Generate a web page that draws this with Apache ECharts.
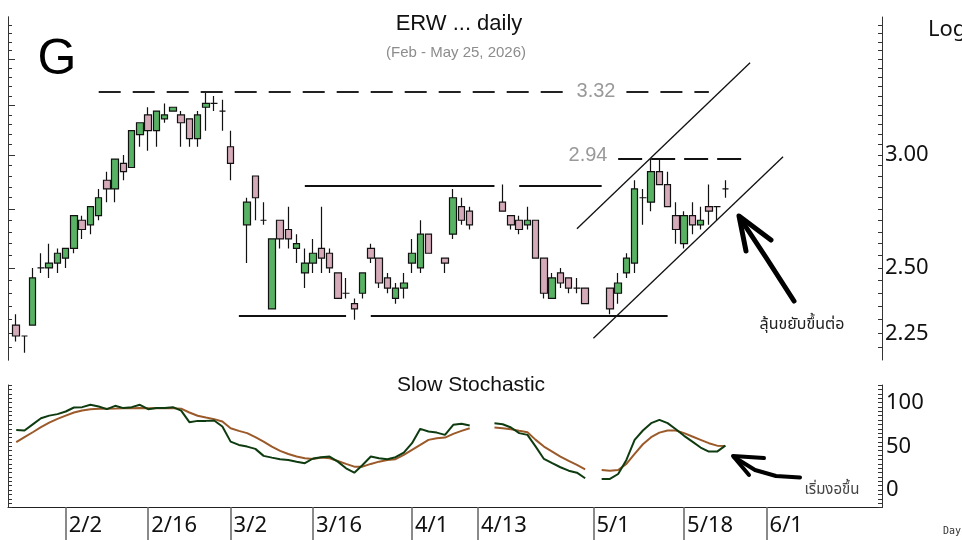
<!DOCTYPE html>
<html>
<head>
<meta charset="utf-8">
<script src="https://cdn.jsdelivr.net/npm/echarts@6/dist/echarts.min.js"></script>
<style>
  html, body { margin: 0; padding: 0; background: #fff; }
  #chart { width: 962px; height: 540px; }
</style>
</head>
<body>
<div id="chart"></div>
<script>
// trading days shown as candles
const tradeDays = ['1/23','1/26','1/27','1/28','1/29','1/30',
  '2/2','2/3','2/4','2/5','2/6','2/9','2/10','2/11','2/12','2/13','2/16','2/17','2/18','2/19','2/20','2/23','2/24','2/25','2/26','2/27',
  '3/2','3/4','3/5','3/6','3/9','3/10','3/11','3/12','3/13','3/16','3/17','3/18','3/19','3/20','3/23','3/24','3/25','3/26','3/27','3/30','3/31',
  '4/1','4/2','4/3','4/7','4/8','4/9','4/10','4/16','4/17','4/20','4/21','4/22','4/23','4/24','4/27','4/28','4/29','4/30',
  '5/5','5/6','5/7','5/8','5/11','5/12','5/13','5/14','5/15','5/18','5/19','5/20','5/21','5/22','5/25'];
const open  = [2.28,2.24,2.28,2.50,2.50,2.52, 2.54,2.58,2.70,2.68,2.72,2.88,2.84,2.96,2.94,3.10,3.20,3.12,3.18,3.22,3.20,3.18,3.08,3.24,3.26,3.22,
  3.04,2.68,2.90,2.70,2.34,2.70,2.66,2.58,2.48,2.52,2.58,2.56,2.48,2.40,2.36,2.40,2.58,2.54,2.46,2.38,2.42,
  2.52,2.50,2.64,2.54,2.64,2.76,2.74,2.78,2.72,2.70,2.68,2.70,2.54,2.38,2.48,2.46,2.42,2.42,
  2.42,2.40,2.48,2.52,2.80,2.78,2.92,2.86,2.72,2.60,2.72,2.68,2.76,2.76,2.84];
const close = [2.24,2.24,2.46,2.50,2.52,2.56, 2.58,2.72,2.66,2.76,2.80,2.84,2.98,2.92,3.12,3.16,3.12,3.22,3.20,3.24,3.16,3.08,3.20,3.26,3.26,3.22,
  2.96,2.78,2.80,2.70,2.62,2.62,2.62,2.60,2.52,2.56,2.54,2.50,2.38,2.40,2.34,2.48,2.54,2.44,2.42,2.42,2.44,
  2.56,2.64,2.56,2.52,2.80,2.70,2.68,2.74,2.68,2.66,2.70,2.54,2.40,2.46,2.44,2.42,2.42,2.36,
  2.34,2.44,2.54,2.84,2.80,2.92,2.86,2.76,2.66,2.72,2.68,2.70,2.74,2.76,2.84];
const low   = [2.22,2.18,2.28,2.48,2.46,2.48, 2.50,2.56,2.62,2.64,2.70,2.78,2.78,2.88,2.94,3.04,3.02,3.04,3.16,3.22,3.04,3.04,3.04,3.12,3.22,3.12,
  2.88,2.52,2.70,2.68,2.34,2.58,2.58,2.52,2.42,2.48,2.48,2.48,2.38,2.38,2.30,2.38,2.52,2.42,2.40,2.36,2.38,
  2.48,2.48,2.56,2.48,2.62,2.68,2.66,2.74,2.66,2.64,2.66,2.54,2.38,2.38,2.42,2.40,2.40,2.36,
  2.32,2.36,2.46,2.48,2.68,2.74,2.86,2.76,2.60,2.58,2.64,2.66,2.68,2.70,2.80];
const high  = [2.32,2.24,2.50,2.56,2.60,2.58, 2.58,2.72,2.72,2.76,2.84,2.92,2.98,3.00,3.12,3.16,3.24,3.22,3.26,3.24,3.22,3.18,3.22,3.32,3.30,3.28,
  3.12,2.80,2.90,2.78,2.62,2.70,2.76,2.64,2.58,2.62,2.76,2.58,2.48,2.46,2.38,2.48,2.60,2.54,2.48,2.44,2.48,
  2.62,2.70,2.64,2.54,2.84,2.80,2.76,2.86,2.72,2.72,2.76,2.70,2.54,2.48,2.50,2.46,2.46,2.42,
  2.42,2.48,2.56,2.88,2.84,2.98,2.98,2.92,2.78,2.74,2.78,2.76,2.86,2.76,2.88];

// slow stochastic (%K, %D); line restarts one slot before the next trading day after a holiday
const stochDays = ['1/23','1/26','1/27','1/28','1/29','1/30',
  '2/2','2/3','2/4','2/5','2/6','2/9','2/10','2/11','2/12','2/13','2/16','2/17','2/18','2/19','2/20','2/23','2/24','2/25','2/26','2/27',
  '3/2','3/3','3/4','3/5','3/6','3/9','3/10','3/11','3/12','3/13','3/16','3/17','3/18','3/19','3/20','3/23','3/24','3/25','3/26','3/27','3/30','3/31',
  '4/1','4/2','4/3','4/6','4/7','4/8','4/9','4/10','4/15','4/16','4/17','4/20','4/21','4/22','4/23','4/24','4/27','4/28','4/29','4/30',
  '5/4','5/5','5/6','5/7','5/8','5/11','5/12','5/13','5/14','5/15','5/18','5/19','5/20','5/21','5/22','5/25'];
const stochK = [68.7,68,75,82,85,86.7, 89.7,94.3,94.7,97.4,95.4,92.4,96.2,93.6,94.7,97.4,92.4,93.6,93.6,94.7,90.8,77.5,79,79,79.4,72.5,
  55.3,51.5,49.6,47,39,37,35.2,34.4,32.4,30.6,36,37.5,38.2,32.4,24.8,19.8,28.6,38.2,36.3,35.2,37.5,42.7,
  53.5,69.9,66.8,65.6,63,74.5,75.6,73.7,76.4,75.2,71.4,65,63,49.6,35.5,30.6,26,22.1,19.8,13.4,
  12.6,12.6,18.3,34.4,57.3,68,76.4,80.2,76.4,69.5,61.9,55.3,48.5,43.9,43.9,50.7];
const stochD = [54.6,60.4,66,71.8,77,81.3, 85,88.6,90.8,92.4,92.8,92.8,93,93.4,93.4,93.8,93.4,93.4,93.4,93.4,93,88.6,84.8,82.8,81,78.2,
  70.6,67.6,65,60.4,55.3,49.6,44.7,41.2,38.2,36.3,35.5,37.1,36.3,33.2,29.8,26.7,26.7,29.8,32.4,34.4,35.2,40.1,
  45.8,51.5,57.3,59.2,59.9,64.1,67.6,70.6,71.4,70.6,69.5,67.6,66,57.3,49.6,43.9,38.2,33.2,28.6,23.7,
  22.9,22.1,22.9,29.8,41.2,52.3,60.4,65.6,68,68,65,61.1,57.3,53.5,50.7,50.4];

const labelDays = ['2/2','2/16','3/2','3/16','4/1','4/13','5/1','5/18','6/1'];
const priceLabels = [2.25, 2.50, 3.00];
const stochLabels = [0, 50, 100];

// weekday slots on the x axis, holidays kept as empty slots
const cats = [];
for (let t = new Date(2026, 0, 22); t <= new Date(2026, 5, 19); t.setDate(t.getDate() + 1)) {
  if (t.getDay() === 0 || t.getDay() === 6) continue;
  cats.push((t.getMonth() + 1) + '/' + t.getDate());
}

const L = Math.log;
const candleData = cats.map(c => {
  const i = tradeDays.indexOf(c);
  return i < 0 ? ['-', '-', '-', '-'] : [L(open[i]), L(close[i]), L(low[i]), L(high[i])];
});
const kData = cats.map(c => { const i = stochDays.indexOf(c); return i < 0 ? null : stochK[i]; });
const dData = cats.map(c => { const i = stochDays.indexOf(c); return i < 0 ? null : stochD[i]; });

const fineTicks = [], coarseTicks = [];
for (let n = 44; n <= 74; n++) { fineTicks.push(L(n * 0.05)); if (n % 5 === 0) coarseTicks.push(L(n * 0.05)); }

const pMin = L(2.155), pMax = L(3.748);
const isLabelDay = (i, v) => labelDays.indexOf(v) >= 0;

// drawn levels and channel
const seg = (a, b, p1, p2, style) => [{ coord: [a, L(p1)], lineStyle: style }, { coord: [b, L(p2)] }];
const dashA = { type: [22, 12], color: '#222', width: 2 };
const dashB = { type: [24, 9], color: '#111', width: 2 };
const solid = { type: 'solid', color: '#111', width: 2 };
const thin = { type: 'solid', color: '#111', width: 1.3 };

const chart = echarts.init(document.getElementById('chart'));
chart.setOption({
  animation: false,
  textStyle: { fontFamily: 'Noto Sans' },
  grid: [
    { left: 8, right: 80, top: 17, bottom: 180 },
    { left: 8, right: 80, top: 385, bottom: 32.5 }
  ],
  xAxis: [
    { type: 'category', gridIndex: 0, data: cats, boundaryGap: false, show: false },
    {
      type: 'category', gridIndex: 1, data: cats, boundaryGap: false,
      axisLine: { onZero: false, lineStyle: { color: '#222', width: 1 } },
      axisTick: { interval: isLabelDay, length: 34, lineStyle: { color: '#8a8a8a', width: 2 } },
      axisLabel: { interval: isLabelDay, align: 'left', padding: [0, 0, 0, 3], margin: 7, fontSize: 22, color: '#111', fontFamily: 'Noto Sans' },
      splitLine: { show: false }
    }
  ],
  yAxis: [
    {
      type: 'value', gridIndex: 0, position: 'right', min: pMin, max: pMax,
      axisLine: { show: true, lineStyle: { color: '#333' } },
      axisTick: { show: true, inside: true, length: 4, customValues: fineTicks, lineStyle: { color: '#333' } },
      axisLabel: { customValues: priceLabels.map(L), formatter: v => Math.exp(v).toFixed(2), margin: 3, fontSize: 22, color: '#111', fontFamily: 'Noto Sans' },
      splitLine: { show: false }
    },
    {
      type: 'value', gridIndex: 0, position: 'left', min: pMin, max: pMax,
      axisLine: { show: true, lineStyle: { color: '#333' } },
      axisTick: { show: true, inside: true, length: 4, customValues: fineTicks, lineStyle: { color: '#333' } },
      axisLabel: { show: false }, splitLine: { show: false }
    },
    {
      type: 'value', gridIndex: 0, position: 'left', min: pMin, max: pMax,
      axisLine: { show: true, lineStyle: { color: '#333' } },
      axisTick: { show: true, inside: true, length: 7, customValues: coarseTicks, lineStyle: { color: '#333' } },
      axisLabel: { show: false }, splitLine: { show: false }
    },
    {
      type: 'value', gridIndex: 1, position: 'right', min: -20, max: 120, interval: 5,
      axisLine: { show: true, lineStyle: { color: '#333' } },
      axisTick: { show: true, inside: true, length: 4, lineStyle: { color: '#333' } },
      axisLabel: { formatter: v => stochLabels.indexOf(v) >= 0 ? String(v) : '', margin: 4, fontSize: 22, color: '#111', fontFamily: 'Noto Sans' },
      splitLine: { show: false }
    },
    {
      type: 'value', gridIndex: 1, position: 'left', min: -20, max: 120, interval: 5,
      axisLine: { show: true, lineStyle: { color: '#333' } },
      axisTick: { show: true, inside: true, length: 4, lineStyle: { color: '#333' } },
      axisLabel: { show: false }, splitLine: { show: false }
    }
  ],
  series: [
    {
      type: 'candlestick', xAxisIndex: 0, yAxisIndex: 0, data: candleData, barWidth: 7,
      itemStyle: {
        color: '#58b264', color0: '#d5aab9',
        borderColor: '#111', borderColor0: '#111', borderColorDoji: '#111', borderWidth: 1.2
      },
      markLine: {
        silent: true, symbol: ['none', 'none'], label: { show: false }, animation: false,
        data: [
          seg('2/6', '4/28', 3.32, 3.32, dashA),
          seg('5/7', '5/21', 3.32, 3.32, dashA),
          seg('5/6', '5/27', 2.98, 2.98, dashB),
          seg('3/13', '4/15', 2.854, 2.854, solid),
          seg('4/20', '5/4', 2.854, 2.854, solid),
          seg('3/3', '3/20', 2.314, 2.314, solid),
          seg('3/25', '5/14', 2.314, 2.314, solid),
          seg('4/29', '5/28', 2.663, 3.481, thin),
          seg('5/1', '6/3', 2.232, 2.991, thin)
        ]
      }
    },
    {
      type: 'line', xAxisIndex: 1, yAxisIndex: 3, data: dData, symbol: 'none', connectNulls: false,
      lineStyle: { color: '#9b5a2a', width: 2 }
    },
    {
      type: 'line', xAxisIndex: 1, yAxisIndex: 3, data: kData, symbol: 'none', connectNulls: false,
      lineStyle: { color: '#0e3b10', width: 2 }
    }
  ],
  graphic: [
    { type: 'text', style: { text: 'G', x: 57, y: 60, font: '50px "Liberation Sans"', fill: '#000', align: 'center', verticalAlign: 'middle' } },
    { type: 'text', style: { text: 'ERW ... daily', x: 459, y: 24, font: '22px "Liberation Sans"', fill: '#111', align: 'center', verticalAlign: 'middle' } },
    { type: 'text', style: { text: '(Feb - May 25, 2026)', x: 456, y: 53, font: '15px "Liberation Sans"', fill: '#8c8c8c', align: 'center', verticalAlign: 'middle' } },
    { type: 'text', style: { text: 'Log', x: 928, y: 30, font: '22px "Noto Sans"', fill: '#111', align: 'left', verticalAlign: 'middle' } },
    { type: 'text', style: { text: '3.32', x: 596, y: 91, font: '20px "Liberation Sans"', fill: '#999', align: 'center', verticalAlign: 'middle' } },
    { type: 'text', style: { text: '2.94', x: 588, y: 155, font: '20px "Liberation Sans"', fill: '#999', align: 'center', verticalAlign: 'middle' } },
    { type: 'text', style: { text: 'Slow Stochastic', x: 471, y: 385, font: '21px "Liberation Sans"', fill: '#111', align: 'center', verticalAlign: 'middle' } },
    { type: 'text', style: { text: 'ลุ้นขยับขึ้นต่อ', x: 802, y: 326, font: '16px "Noto Sans Thai", "Noto Sans", sans-serif', fill: '#222', align: 'center', verticalAlign: 'middle' } },
    { type: 'text', style: { text: 'เริ่มงอขึ้น', x: 832, y: 491, font: '15px "Noto Sans Thai", "Noto Sans", sans-serif', fill: '#444', align: 'center', verticalAlign: 'middle' } },
    { type: 'text', style: { text: 'Day', x: 943, y: 531, font: '10px "DejaVu Sans Mono"', fill: '#333', align: 'left', verticalAlign: 'middle' } },
    { type: 'polyline', shape: { points: [[794, 301], [767, 259], [740, 218]] }, style: { stroke: '#000', lineWidth: 5, lineCap: 'round', lineJoin: 'round', fill: null } },
    { type: 'polyline', shape: { points: [[746, 251], [739, 216], [771, 240]] }, style: { stroke: '#000', lineWidth: 5, lineCap: 'round', lineJoin: 'round', fill: null } },
    { type: 'polyline', shape: { points: [[800, 477.5], [776, 476], [755, 470], [734, 457]] }, style: { stroke: '#000', lineWidth: 4, lineCap: 'round', lineJoin: 'round', fill: null } },
    { type: 'polyline', shape: { points: [[764, 458], [733, 456], [749, 475]] }, style: { stroke: '#000', lineWidth: 4, lineCap: 'round', lineJoin: 'round', fill: null } }
  ]
});
window.addEventListener('resize', () => chart.resize());
</script>
</body>
</html>
